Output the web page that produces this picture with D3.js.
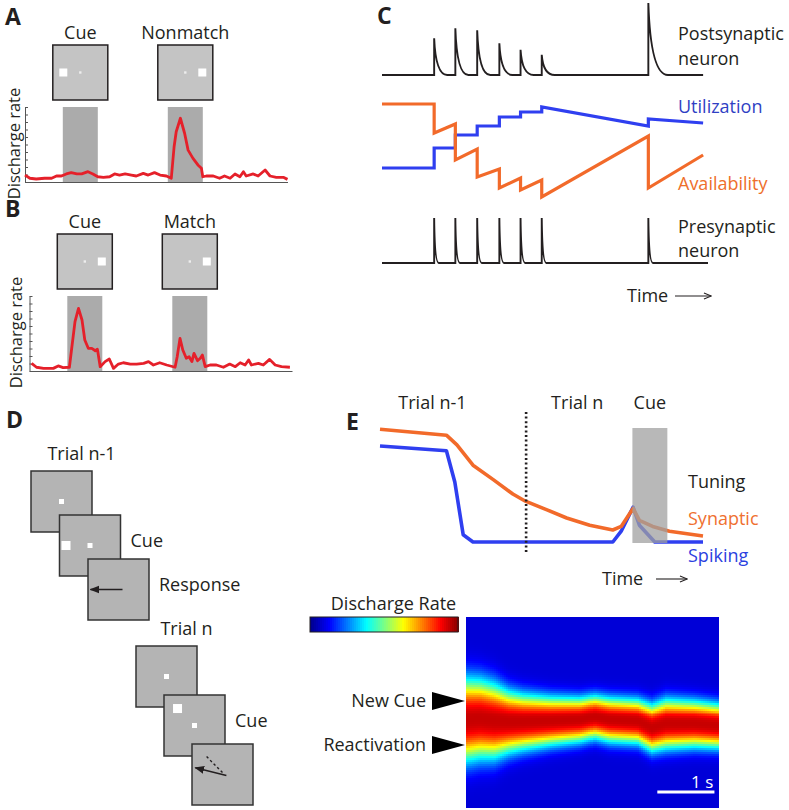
<!DOCTYPE html>
<html>
<head>
<meta charset="utf-8">
<script src="https://cdn.jsdelivr.net/npm/d3@7"></script>
<style>
  body { margin: 0; background: #fff; }
  svg { display: block; font-family: "Open Sans", sans-serif; }
</style>
</head>
<body>
<svg id="fig" width="789" height="810"></svg>
<script>
// ---------- data ----------
// A / B: discharge rate (sp/s) over time (s), stimulus windows 0.5 s
const stimDur = 0.5
const stimOnsets = [0, 1.5]
const stimLabelsA = ['Cue', 'Nonmatch']
const stimLabelsB = ['Cue', 'Match']
const stimSideA = ['left', 'right']
const stimSideB = ['right', 'right']

const tA = [-0.54,-0.47,-0.38,-0.26,-0.16,-0.09,-0.02,0.05,0.12,0.20,0.27,0.36,0.43,0.50,0.58,0.67,0.74,0.81,0.89,0.98,1.05,1.15,1.22,1.31,1.39,1.48,1.55,1.59,1.62,1.68,1.74,1.79,1.86,1.93,1.98,2.00,2.05,2.15,2.24,2.31,2.39,2.46,2.53,2.58,2.62,2.72,2.79,2.89,2.96,3.05,3.15,3.21]
const rateA = [3.7,2.0,1.6,2.0,2.0,3.2,3.2,4.3,5.0,4.3,4.3,5.5,4.3,2.8,2.5,2.8,4.3,3.7,4.3,3.7,3.2,4.6,3.7,5.0,3.7,3.2,2.0,18.8,26.8,34.0,26.0,17.0,12.6,9.1,7.3,2.8,3.2,3.2,2.0,3.2,2.0,4.3,2.8,5.5,3.2,4.3,3.2,6.4,3.2,2.5,2.5,1.4]

const tB = [-0.51,-0.44,-0.34,-0.20,-0.13,-0.06,0.03,0.06,0.11,0.16,0.21,0.25,0.30,0.35,0.40,0.43,0.47,0.54,0.60,0.66,0.73,0.80,0.90,0.99,1.09,1.16,1.23,1.32,1.42,1.54,1.57,1.61,1.65,1.70,1.74,1.78,1.81,1.86,1.90,1.93,1.97,2.04,2.13,2.23,2.32,2.40,2.47,2.54,2.59,2.63,2.73,2.80,2.89,2.97,3.06,3.18]
const rateB = [4.1,2.0,1.4,1.4,2.7,1.8,2.0,11.2,26.3,33.4,27.2,16.5,12.1,12.1,10.8,11.6,2.3,5.0,6.4,1.4,3.7,4.4,3.7,3.7,4.1,5.0,3.2,4.4,3.2,2.0,7.6,17.4,11.2,6.8,7.6,5.0,9.4,5.5,6.8,8.5,2.3,3.2,3.2,2.0,3.7,2.3,4.4,3.2,5.9,3.2,4.1,3.2,6.2,3.2,2.3,2.0]

// C: spike times (ms), amplitudes, synaptic variables
const spikeTimes = [160, 225, 292, 360, 425, 490, 817]
const postAmp = [0.51, 0.65, 0.62, 0.44, 0.35, 0.28, 1.0]
const postDecay = [40, 40, 40, 40, 40, 40, 60]
const preAmp = [1, 1, 1, 1, 1, 1, 1]
const preDecay = [14, 14, 14, 14, 14, 14, 14]
const synT = [0, 160, 160, 225, 225, 292, 292, 360, 360, 425, 425, 490, 490, 817, 817, 985]
const availV = [0.96,0.96,0.67,0.76,0.40,0.51,0.23,0.31,0.12,0.22,0.10,0.20,0.03,0.64,0.12,0.45]
const utilV = [0.32,0.32,0.52,0.52,0.65,0.65,0.74,0.74,0.83,0.83,0.88,0.88,0.93,0.74,0.81,0.77]

// D: trial frames
const trialNames = ['Trial n-1', 'Trial n']
const frameLabels = [['', 'Cue', 'Response'], ['', 'Cue', '']]
const cueAngle = [180, 135]
const respAngle = [180, 166]

// E: tuning strength over time (s)
const synTimeE = [0,0.95,1.10,1.33,1.62,1.90,2.08,2.38,2.67,3.00,3.33,3.45,3.62,3.71,3.90,4.14,4.62]
const synTuning = [0.99,0.94,0.86,0.69,0.57,0.45,0.39,0.32,0.25,0.19,0.15,0.18,0.33,0.23,0.18,0.14,0.10]
const spkTimeE = [0,0.95,1.07,1.19,1.33,3.33,3.45,3.62,3.71,3.93,4.62]
const spkTuning = [0.85,0.81,0.55,0.11,0.05,0.05,0.14,0.34,0.19,0.05,0.05]
const trialBoundary = 2.09
const cueOnE = 3.61

// heatmap: bump centre and half-width (neuron index 0-100) over time (s)
const hmTime = [0, 0.25, 0.5, 0.75, 1.0, 1.5, 2.0, 2.25, 2.5, 3.0, 3.25, 3.5, 4.0, 4.43]
const hmCenter = [53.9, 53.4, 54.5, 55.0, 55.0, 54.5, 53.9, 52.4, 53.9, 54.7, 58.1, 56.0, 56.0, 57.1]
const hmWidth = [20.9, 19.9, 18.8, 15.7, 14.1, 12.3, 11.3, 11.0, 11.3, 11.3, 12.0, 12.6, 11.8, 11.3]
const hmPeak = 0.93
const hmBase = 0.08
const markerLabels = ['New Cue', 'Reactivation']
const markerPos = [44, 67]

// ---------- drawing ----------
const svg = d3.select('#fig')
const ink = '#231f20'
const red = '#e5202a', orange = '#f26a2a', blue = '#2f3ff0'

svg.append('defs').html(`
  <marker id="head" viewBox="0 0 10 10" refX="9" refY="5" markerWidth="7" markerHeight="7" orient="auto-start-reverse">
    <path d="M0,1 L10,5 L0,9 z" fill="${ink}"/>
  </marker>
  <marker id="open" viewBox="0 0 10 10" refX="9" refY="5" markerWidth="8" markerHeight="8" orient="auto">
    <path d="M1,1.5 L9.5,5 L1,8.5" fill="none" stroke="${ink}" stroke-width="1.2"/>
  </marker>
  <clipPath id="hmclip"><rect x="466" y="617" width="253" height="191"/></clipPath>`)

function text(g, x, y, s, opt = {}) {
  return g.append('text').attr('x', x).attr('y', y)
    .attr('font-size', opt.size || 18)
    .attr('font-weight', opt.weight || 400)
    .attr('fill', opt.color || ink)
    .attr('text-anchor', opt.anchor || 'start')
    .text(s)
}
function letter(x, y, s) { text(svg, x, y, s, { size: 23, weight: 700 }) }

letter(5, 25, 'A'); letter(5, 217, 'B'); letter(377, 24, 'C'); letter(6, 428, 'D'); letter(346, 430, 'E')

// A and B
function ratePanel(o) {
  const g = svg.append('g')
  const x = d3.scaleLinear().domain([-0.54, 3.21]).range([o.x0, o.x1])
  const y = d3.scaleLinear().domain([0, 40]).range([o.y1, o.y0])

  g.selectAll('rect.win').data(stimOnsets).enter().append('rect')
    .attr('x', d => x(d)).attr('width', d => x(d + stimDur) - x(d))
    .attr('y', y(40)).attr('height', y(0) - y(40))
    .attr('fill', '#ababab')

  g.append('g').attr('transform', `translate(${o.x0},0)`)
    .call(d3.axisRight(y).tickValues(d3.range(0, 41, 4)).tickSize(3).tickSizeOuter(0).tickFormat(''))
    .attr('color', '#555')
  g.append('g').attr('transform', `translate(0,${o.y1})`)
    .call(d3.axisBottom(x).tickValues([]).tickSizeOuter(0))
    .attr('color', '#555')

  g.append('path').datum(o.t.map((t, i) => [t, o.r[i]]))
    .attr('fill', 'none').attr('stroke', red).attr('stroke-width', 2.8)
    .attr('stroke-linejoin', 'round')
    .attr('d', d3.line().x(d => x(d[0])).y(d => y(d[1])))

  const bx = g.selectAll('g.box').data(stimOnsets).enter().append('g')
    .attr('transform', d => `translate(${x(d + stimDur / 2)},${o.boxY})`)
  bx.append('rect').attr('x', -27.5).attr('y', 0).attr('width', 55).attr('height', 55)
    .attr('fill', '#c4c4c4').attr('stroke', ink).attr('stroke-width', 1.5)
  bx.append('rect').attr('x', -1.2).attr('y', 26.3).attr('width', 2.4).attr('height', 2.4).attr('fill', '#eee')
  bx.append('rect').attr('x', (d, i) => (o.sides[i] === 'left' ? -17 : 17) - 4)
    .attr('y', 23.5).attr('width', 8).attr('height', 8).attr('fill', '#fff')
  bx.append('text').attr('x', 0).attr('y', -6).attr('text-anchor', 'middle')
    .attr('font-size', 18).attr('fill', ink).text((d, i) => o.labels[i])

  g.append('text').attr('transform', `translate(${o.ylabX},${(o.y0 + o.y1) / 2 - 1}) rotate(-90)`)
    .attr('text-anchor', 'middle').attr('font-size', 16.5).attr('fill', ink).text('Discharge rate')
}
ratePanel({ x0: 25, x1: 287.5, y0: 107, y1: 182, boxY: 45, labels: stimLabelsA, sides: stimSideA, t: tA, r: rateA, ylabX: 20 })
ratePanel({ x0: 29.5, x1: 292, y0: 296, y1: 371, boxY: 234, labels: stimLabelsB, sides: stimSideB, t: tB, r: rateB, ylabX: 22 })

// C
const gC = svg.append('g')
const cx = d3.scaleLinear().domain([0, 1000]).range([382, 708])
const postY = d3.scaleLinear().domain([0, 1]).range([75, 3])
const preY = d3.scaleLinear().domain([0, 1]).range([263, 218])
const midY = d3.scaleLinear().domain([0, 1]).range([200, 100])

function spikeTrace(amps, decay, yS, end) {
  const p = d3.path()
  p.moveTo(cx(0), yS(0))
  spikeTimes.forEach((t, i) => {
    p.lineTo(cx(t), yS(0))
    p.lineTo(cx(t), yS(amps[i]))
    p.quadraticCurveTo(cx(t + decay[i] * 0.12), yS(0), cx(t + decay[i]), yS(0))
  })
  p.lineTo(cx(end), yS(0))
  return p.toString()
}
gC.append('path').attr('d', spikeTrace(postAmp, postDecay, postY, 985))
  .attr('fill', 'none').attr('stroke', ink).attr('stroke-width', 1.9)
gC.append('path').attr('d', spikeTrace(preAmp, preDecay, preY, 1000))
  .attr('fill', 'none').attr('stroke', ink).attr('stroke-width', 1.9)

const synLine = d3.line().x(d => cx(d[0])).y(d => midY(d[1]))
gC.append('path').datum(synT.map((t, i) => [t, utilV[i]]))
  .attr('fill', 'none').attr('stroke', blue).attr('stroke-width', 3.2).attr('d', synLine)
gC.append('path').datum(synT.map((t, i) => [t, availV[i]]))
  .attr('fill', 'none').attr('stroke', orange).attr('stroke-width', 3.2).attr('d', synLine)

text(gC, 678, 40, 'Postsynaptic'); text(gC, 678, 65, 'neuron')
text(gC, 678, 113, 'Utilization', { color: '#2f3fc4' })
text(gC, 678, 190, 'Availability', { color: '#ee6f2b' })
text(gC, 678, 233, 'Presynaptic'); text(gC, 678, 257, 'neuron')
text(gC, 627, 302, 'Time')
gC.append('line').attr('x1', 675).attr('x2', 711).attr('y1', 296).attr('y2', 296)
  .attr('stroke', ink).attr('stroke-width', 1.1).attr('marker-end', 'url(#open)')

// D
const gD = svg.append('g')
const fs = 61
const trialOrigin = [[31, 471], [136, 646]]
const frameStep = [[28.5, 44], [28, 49]]
trialNames.forEach((name, k) => {
  const [ox, oy] = trialOrigin[k], [sx, sy] = frameStep[k]
  text(gD, ox + fs / 2 + 20, oy - 11, name, { anchor: 'middle' })
  frameLabels[k].forEach((lab, f) => {
    const x0 = ox + f * sx, y0 = oy + f * sy
    const cxF = x0 + fs / 2, cyF = y0 + fs / 2
    const fr = gD.append('g')
    fr.append('rect').attr('x', x0).attr('y', y0).attr('width', fs).attr('height', fs)
      .attr('fill', '#b4b4b4').attr('stroke', '#333').attr('stroke-width', 1.5)
    const ca = cueAngle[k] * Math.PI / 180
    if (f < 2) fr.append('rect').attr('x', cxF - 2.5).attr('y', cyF - 2.5).attr('width', 5).attr('height', 5).attr('fill', '#fff')
    if (f === 1) fr.append('rect').attr('x', cxF + 24 * Math.cos(ca) - 4.5).attr('y', cyF - 24 * Math.sin(ca) - 4.5)
      .attr('width', 9).attr('height', 9).attr('fill', '#fff')
    if (f === 2) {
      const ra = respAngle[k] * Math.PI / 180
      if (respAngle[k] !== cueAngle[k]) {
        fr.append('line').attr('x1', cxF).attr('y1', cyF - 2)
          .attr('x2', cxF + 24 * Math.cos(ca)).attr('y2', cyF - 2 - 24 * Math.sin(ca))
          .attr('stroke', ink).attr('stroke-width', 1.4).attr('stroke-dasharray', '2.5,2.5')
      }
      fr.append('line').attr('x1', cxF - 4 * Math.cos(ra)).attr('y1', cyF + 4 * Math.sin(ra))
        .attr('x2', cxF + 28 * Math.cos(ra)).attr('y2', cyF - 28 * Math.sin(ra))
        .attr('stroke', ink).attr('stroke-width', 1.4).attr('marker-end', 'url(#head)')
    }
    if (lab) text(gD, x0 + fs + 10, y0 + 32, lab)
  })
})

// E
const gE = svg.append('g')
const ex = d3.scaleLinear().domain([0, 4.62]).range([380, 703])
const ey = d3.scaleLinear().domain([0, 1]).range([548, 428])
const eLine = d3.line().x(d => ex(d[0])).y(d => ey(d[1]))
gE.append('path').datum(spkTimeE.map((t, i) => [t, spkTuning[i]]))
  .attr('fill', 'none').attr('stroke', blue).attr('stroke-width', 3.6).attr('stroke-linejoin', 'round').attr('d', eLine)
gE.append('path').datum(synTimeE.map((t, i) => [t, synTuning[i]]))
  .attr('fill', 'none').attr('stroke', orange).attr('stroke-width', 3.6).attr('stroke-linejoin', 'round').attr('d', eLine)
gE.append('rect').attr('x', ex(cueOnE)).attr('width', ex(cueOnE + stimDur) - ex(cueOnE))
  .attr('y', 428).attr('height', 115).attr('fill', '#a0a0a0').attr('opacity', 0.75)
gE.append('line').attr('x1', ex(trialBoundary)).attr('x2', ex(trialBoundary)).attr('y1', 412).attr('y2', 553)
  .attr('stroke', ink).attr('stroke-width', 2.6).attr('stroke-dasharray', '2,2.6')
text(gE, ex(0.75), 409, 'Trial n-1', { anchor: 'middle' })
text(gE, ex(2.82), 409, 'Trial n', { anchor: 'middle' })
text(gE, ex(cueOnE + stimDur / 2), 409, 'Cue', { anchor: 'middle' })
text(gE, 688, 488, 'Tuning')
text(gE, 688, 525, 'Synaptic', { color: '#ef7030' })
text(gE, 688, 562, 'Spiking', { color: '#2b3fe0' })
text(gE, 602, 585, 'Time')
gE.append('line').attr('x1', 656).attr('x2', 687).attr('y1', 579).attr('y2', 579)
  .attr('stroke', ink).attr('stroke-width', 1.1).attr('marker-end', 'url(#open)')

// heatmap
const gH = svg.append('g')
const jet = d3.scaleLinear().domain([0, 0.125, 0.375, 0.625, 0.875, 1])
  .range(['#00008f', '#0000ff', '#00ffff', '#ffff00', '#ff0000', '#800000']).clamp(true)
const hx = d3.scaleLinear().domain([0, 4.43]).range([466, 719])
const hy = d3.scaleLinear().domain([0, 100]).range([617, 808])
const cAt = d3.scaleLinear().domain(hmTime).range(hmCenter)
const wAt = d3.scaleLinear().domain(hmTime).range(hmWidth)
const nCols = 126, nRows = 96
const dt = 4.43 / nCols, du = 100 / nRows
const cells = []
for (let i = 0; i < nCols; i++) {
  const t = i * dt, c = cAt(t + dt / 2), w = wAt(t + dt / 2)
  for (let j = 0; j < nRows; j++) {
    const u = j * du
    const z = Math.abs(u + du / 2 - c) / w
    cells.push({ t, u, v: hmBase + (hmPeak - hmBase) * Math.exp(-(z ** 2.6)) })
  }
}
gH.append('g').attr('clip-path', 'url(#hmclip)').selectAll('rect').data(cells).join('rect')
  .attr('x', d => hx(d.t)).attr('y', d => hy(d.u))
  .attr('width', hx(dt) - hx(0) + 0.6).attr('height', hy(du) - hy(0) + 0.6)
  .attr('shape-rendering', 'crispEdges')
  .attr('fill', d => jet(d.v))

// colour bar
const cb = d3.scaleLinear().domain([0, 1]).range([310, 458])
gH.selectAll('rect.cb').data(d3.range(0, 1, 1 / 74)).enter().append('rect')
  .attr('x', d => cb(d)).attr('y', 617).attr('width', cb(1 / 74) - cb(0) + 0.5).attr('height', 15)
  .attr('shape-rendering', 'crispEdges').attr('fill', d => jet(d))
gH.append('rect').attr('x', 310).attr('y', 617).attr('width', 148).attr('height', 15)
  .attr('fill', 'none').attr('stroke', ink).attr('stroke-width', 1)
text(gH, 393.5, 610, 'Discharge Rate', { anchor: 'middle' })

markerLabels.forEach((lab, i) => {
  const yy = hy(markerPos[i])
  gH.append('path').attr('d', `M432,${yy - 9}L465,${yy}L432,${yy + 9}Z`).attr('fill', '#000')
  text(gH, 426, yy + 6, lab, { anchor: 'end' })
})
gH.append('line').attr('x1', hx(3.35)).attr('x2', hx(4.35)).attr('y1', 792).attr('y2', 792)
  .attr('stroke', '#fff').attr('stroke-width', 3)
text(gH, hx(4.33), 788, '1 s', { anchor: 'end', color: '#fff', size: 17 })
</script>
</body>
</html>
